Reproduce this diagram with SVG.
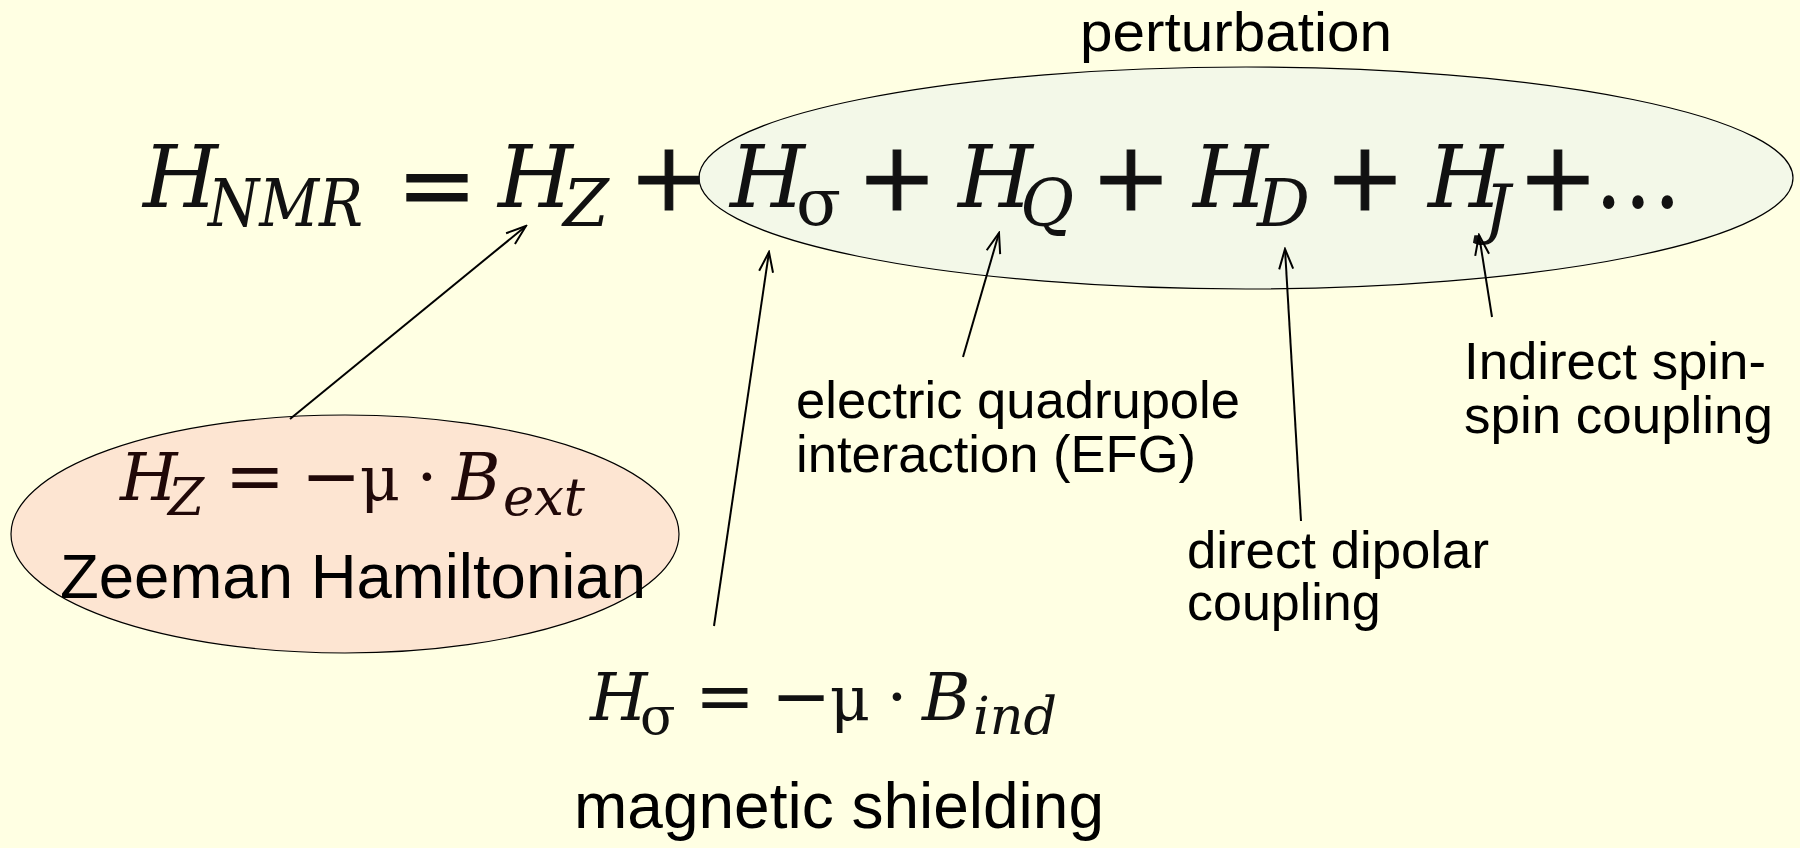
<svg xmlns="http://www.w3.org/2000/svg" width="1800" height="848" viewBox="0 0 1800 848">
<defs>
<style>
.m{font-family:"DejaVu Serif","Liberation Serif",serif;font-style:italic;fill:#111;}
.u{font-family:"DejaVu Serif","Liberation Serif",serif;fill:#111;}
.t{font-family:"Liberation Sans",Arial,sans-serif;fill:#000;}
.big{font-size:86px;}
.sub{font-size:66px;}
.op{font-size:96px;stroke:#111;stroke-width:1.2;}
.zm{fill:#200808;}
.conn{stroke:#000;stroke-width:2;fill:none;}
</style>
<marker id="arr" markerUnits="userSpaceOnUse" markerWidth="24" markerHeight="20" viewBox="0 0 24 20" refX="22" refY="10" orient="auto">
<path d="M2,3 L22,10 L2,17" fill="none" stroke="#000" stroke-width="2"/>
</marker>
</defs>
<rect width="1800" height="848" fill="#FFFFE3"/>

<g id="perturbation">
<ellipse cx="1246" cy="178" rx="547" ry="111" fill="#F3F8E8" stroke="#000" stroke-width="1.2"/>
<text class="t" x="1236" y="51" font-size="56" text-anchor="middle" textLength="312" lengthAdjust="spacingAndGlyphs">perturbation</text>
</g>

<g id="main-equation">
<text class="m big" x="143" y="207">H</text>
<text class="m sub" x="208" y="226" textLength="155" lengthAdjust="spacingAndGlyphs">NMR</text>
<text class="u op" x="437" y="218" text-anchor="middle">=</text>
<text class="m big" x="498" y="207">H</text>
<text class="m sub" x="563" y="226">Z</text>
<text class="u op" x="669" y="210" text-anchor="middle">+</text>
<text class="m big" x="730" y="207">H</text>
<text class="u sub" x="796" y="225">σ</text>
<text class="u op" x="897" y="210" text-anchor="middle">+</text>
<text class="m big" x="958" y="207">H</text>
<text class="m sub" x="1020" y="226">Q</text>
<text class="u op" x="1131" y="210" text-anchor="middle">+</text>
<text class="m big" x="1193" y="207">H</text>
<text class="m sub" x="1257" y="226">D</text>
<text class="u op" x="1365" y="210" text-anchor="middle">+</text>
<text class="m big" x="1428" y="207">H</text>
<text class="m sub" x="1484" y="231">J</text>
<text class="u op" x="1558" y="210" text-anchor="middle">+</text>
<text class="u" x="1594" y="208" font-size="104" textLength="88" lengthAdjust="spacingAndGlyphs">…</text>
</g>

<g id="zeeman">
<ellipse cx="345" cy="534" rx="334" ry="119" fill="#FDE5D2" stroke="#000" stroke-width="1.2"/>
<text class="m zm" x="120" y="500" font-size="66">H</text>
<text class="m zm" x="168" y="515" font-size="52">Z</text>
<text class="u zm" x="255" y="501" font-size="72" text-anchor="middle">=</text>
<text class="u zm" x="331" y="501" font-size="72" text-anchor="middle">−</text>
<text class="u zm" x="380" y="500" font-size="62" text-anchor="middle">μ</text>
<text class="u zm" x="427" y="500" font-size="66" text-anchor="middle">·</text>
<text class="m zm" x="452" y="500" font-size="66">B</text>
<text class="m zm" x="503" y="515" font-size="52" textLength="82" lengthAdjust="spacingAndGlyphs">ext</text>
<text class="t" x="60" y="598" font-size="63" fill="#1a0000" textLength="586" lengthAdjust="spacingAndGlyphs">Zeeman Hamiltonian</text>
</g>

<g id="shielding">
<text class="m" x="590" y="720" font-size="66">H</text>
<text class="u" x="640" y="734" font-size="52">σ</text>
<text class="u" x="725" y="721" font-size="72" text-anchor="middle">=</text>
<text class="u" x="801" y="721" font-size="72" text-anchor="middle">−</text>
<text class="u" x="850" y="720" font-size="62" text-anchor="middle">μ</text>
<text class="u" x="897" y="720" font-size="66" text-anchor="middle">·</text>
<text class="m" x="922" y="720" font-size="66">B</text>
<text class="m" x="973" y="734" font-size="52" textLength="84" lengthAdjust="spacingAndGlyphs">ind</text>
<text class="t" x="574" y="828" font-size="64" textLength="530" lengthAdjust="spacingAndGlyphs">magnetic shielding</text>
</g>

<g id="quadrupole">
<text class="t" x="796" y="418" font-size="52" textLength="444" lengthAdjust="spacingAndGlyphs">electric quadrupole</text>
<text class="t" x="796" y="472" font-size="52" textLength="400" lengthAdjust="spacingAndGlyphs">interaction (EFG)</text>
</g>

<g id="dipolar">
<text class="t" x="1187" y="568" font-size="52" textLength="302" lengthAdjust="spacingAndGlyphs">direct dipolar</text>
<text class="t" x="1187" y="620" font-size="52">coupling</text>
</g>

<g id="indirect">
<text class="t" x="1464" y="379" font-size="52" textLength="302" lengthAdjust="spacingAndGlyphs">Indirect spin-</text>
<text class="t" x="1464" y="433" font-size="52" textLength="309" lengthAdjust="spacingAndGlyphs">spin coupling</text>
</g>

<g id="connectors">
<line class="conn" x1="290" y1="419" x2="526" y2="226" marker-end="url(#arr)"/>
<line class="conn" x1="714" y1="626" x2="769" y2="252" marker-end="url(#arr)"/>
<line class="conn" x1="963" y1="357" x2="999" y2="233" marker-end="url(#arr)"/>
<line class="conn" x1="1301" y1="521" x2="1285" y2="249" marker-end="url(#arr)"/>
<line class="conn" x1="1492" y1="317" x2="1479" y2="235" marker-end="url(#arr)"/>
</g>
</svg>
